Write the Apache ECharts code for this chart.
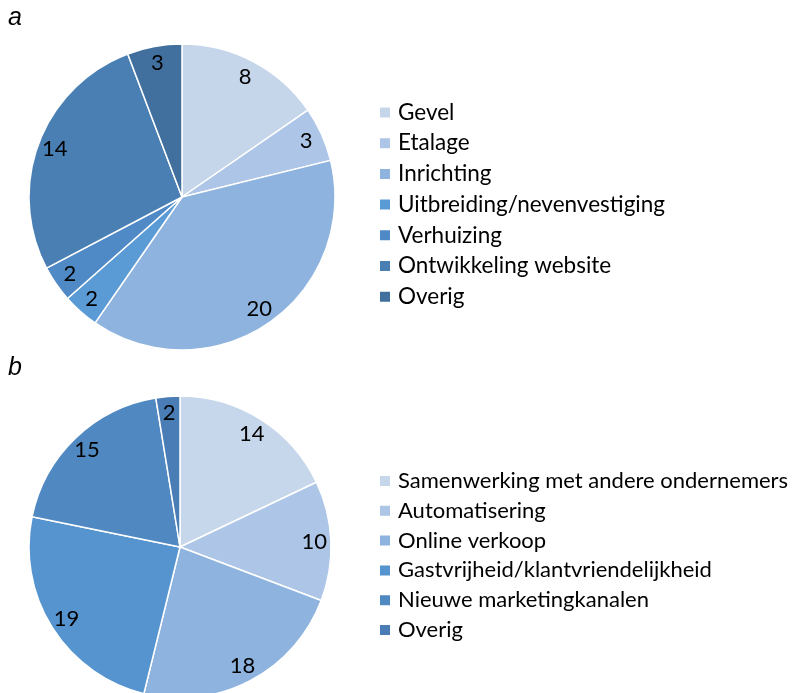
<!DOCTYPE html>
<html>
<head>
<meta charset="utf-8">
<script src="https://cdn.jsdelivr.net/npm/echarts@6/dist/echarts.min.js"></script>
<style>
  html, body { margin: 0; padding: 0; background: #fff; }
  #chart-a { position: absolute; left: 0; top: 0; width: 795px; height: 350px; }
  #chart-b { position: absolute; left: 0; top: 350px; width: 795px; height: 343px; }
</style>
</head>
<body>
<div id="chart-a"></div>
<div id="chart-b"></div>
<script>
// panel a
var namesA = ['Gevel', 'Etalage', 'Inrichting', 'Uitbreiding/nevenvestiging', 'Verhuizing', 'Ontwikkeling website', 'Overig'];
var valuesA = [8, 3, 20, 2, 2, 14, 3];
var colorsA = ['#c6d6ea', '#adc5e6', '#8eb3de', '#5b9bd5', '#4f8ac6', '#4a7fb4', '#41709f'];

// panel b
var namesB = ['Samenwerking met andere ondernemers', 'Automatisering', 'Online verkoop', 'Gastvrijheid/klantvriendelijkheid', 'Nieuwe marketingkanalen', 'Overig'];
var valuesB = [14, 10, 18, 19, 15, 2];
var colorsB = ['#c7d7eb', '#adc5e6', '#8eb3de', '#5594cf', '#5089c2', '#4a7db5'];

var font = 'Lato';

function buildOption(letter, names, values, colors, center, radius, legendLeft, legendTop, gap, legendFont) {
  var data = names.map(function (n, i) {
    return { name: n, value: values[i], itemStyle: { color: colors[i] } };
  });
  return {
    animation: false,
    color: colors,
    title: {
      text: letter,
      left: 8,
      top: 6,
      padding: 0,
      textStyle: { fontFamily: 'Liberation Sans', fontStyle: 'italic', fontWeight: 'normal', fontSize: 25, color: '#000' }
    },
    legend: {
      orient: 'vertical',
      left: legendLeft,
      top: legendTop,
      padding: 0,
      itemWidth: 12,
      itemHeight: 12,
      itemGap: gap,
      icon: 'rect',
      selectedMode: false,
      data: names,
      textStyle: { fontFamily: font, fontSize: legendFont, lineHeight: 22, color: '#000', padding: [0, 0, 0, 2] }
    },
    series: [
      {
        type: 'pie',
        center: center,
        radius: radius,
        startAngle: 90,
        clockwise: true,
        label: { show: false },
        labelLine: { show: false },
        itemStyle: { borderColor: '#fff', borderWidth: 1.5 },
        emphasis: { disabled: true },
        data: data
      },
      {
        // transparent ring that only carries the value labels
        type: 'pie',
        center: center,
        radius: [radius * 0.74, radius],
        startAngle: 90,
        clockwise: true,
        silent: true,
        legendHoverLink: false,
        itemStyle: { color: 'rgba(0,0,0,0)' },
        label: {
          show: true,
          position: 'inside',
          formatter: '{c}',
          fontFamily: font,
          fontSize: 22,
          color: '#000'
        },
        labelLine: { show: false },
        emphasis: { disabled: true },
        data: values.map(function (v, i) { return { name: names[i] + ' ', value: v }; })
      }
    ]
  };
}

var chartA = echarts.init(document.getElementById('chart-a'));
chartA.setOption(buildOption('a', namesA, valuesA, colorsA, [182, 197], 153, 378, 101, 7.7, 22.5));

var chartB = echarts.init(document.getElementById('chart-b'));
chartB.setOption(buildOption('b', namesB, valuesB, colorsB, [180, 197], 151, 378, 120, 7.8, 22));
</script>
</body>
</html>
